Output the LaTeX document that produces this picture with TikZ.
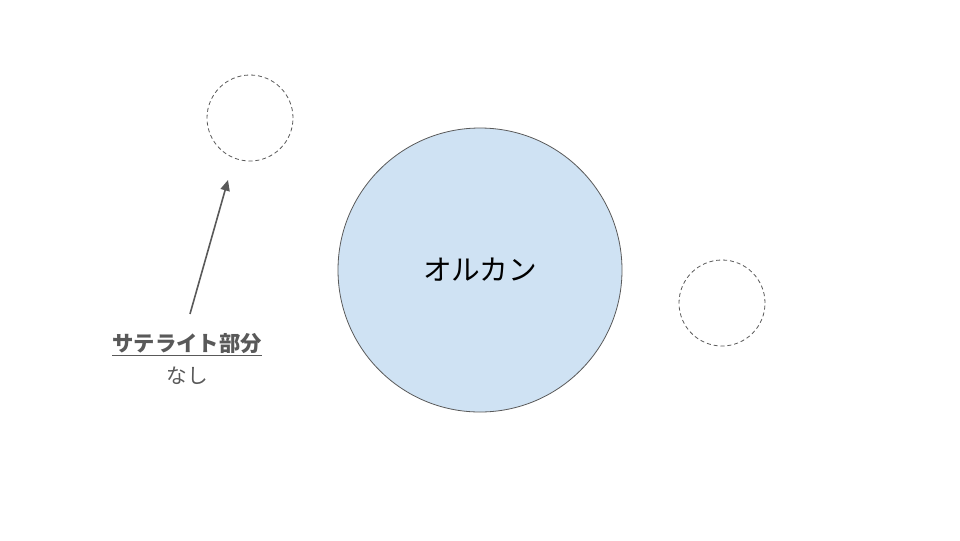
\documentclass[tikz,border=0pt]{standalone}
\usepackage{fontspec}
\setmainfont{Noto Sans CJK JP}
\usetikzlibrary{arrows.meta}
\definecolor{orlfill}{HTML}{CFE2F3}
\definecolor{orlline}{HTML}{595959}
\definecolor{labgrey}{HTML}{595959}
\tikzset{
  satcircle/.style={circle, draw=orlline, line width=0.6pt, dash pattern=on 3pt off 2.2pt, minimum size=64.5pt, inner sep=0pt},
  maincircle/.style={circle, draw=orlline, fill=orlfill, line width=0.6pt, minimum size=213pt, inner sep=0pt},
  pointer/.style={draw=labgrey, line width=1.2pt, -{Triangle[length=8pt,width=7pt]}},
}
\begin{document}
\begin{tikzpicture}[x=0.75pt,y=-0.75pt]
\useasboundingbox (0,0) rectangle (960,540);
\node[maincircle, font=\fontsize{21.5}{25}\selectfont] (orl) at (480,270) {オルカン};
\node[satcircle] (s1) at (250,118) {};
\node[satcircle] (s2) at (722,303) {};
\node[text=labgrey, font=\fontsize{16}{19}\selectfont\bfseries, inner sep=1pt] (lab) at (187,345) {\underline{サテライト部分}};
\node[text=labgrey, font=\fontsize{15.5}{19}\selectfont, inner sep=1pt] (nashi) at (187,376) {なし};
\coordinate (tip) at (228,180);
\draw[pointer] (lab.north) ++(3,-18) coordinate (tail) -- (tip);
\end{tikzpicture}
\end{document}
